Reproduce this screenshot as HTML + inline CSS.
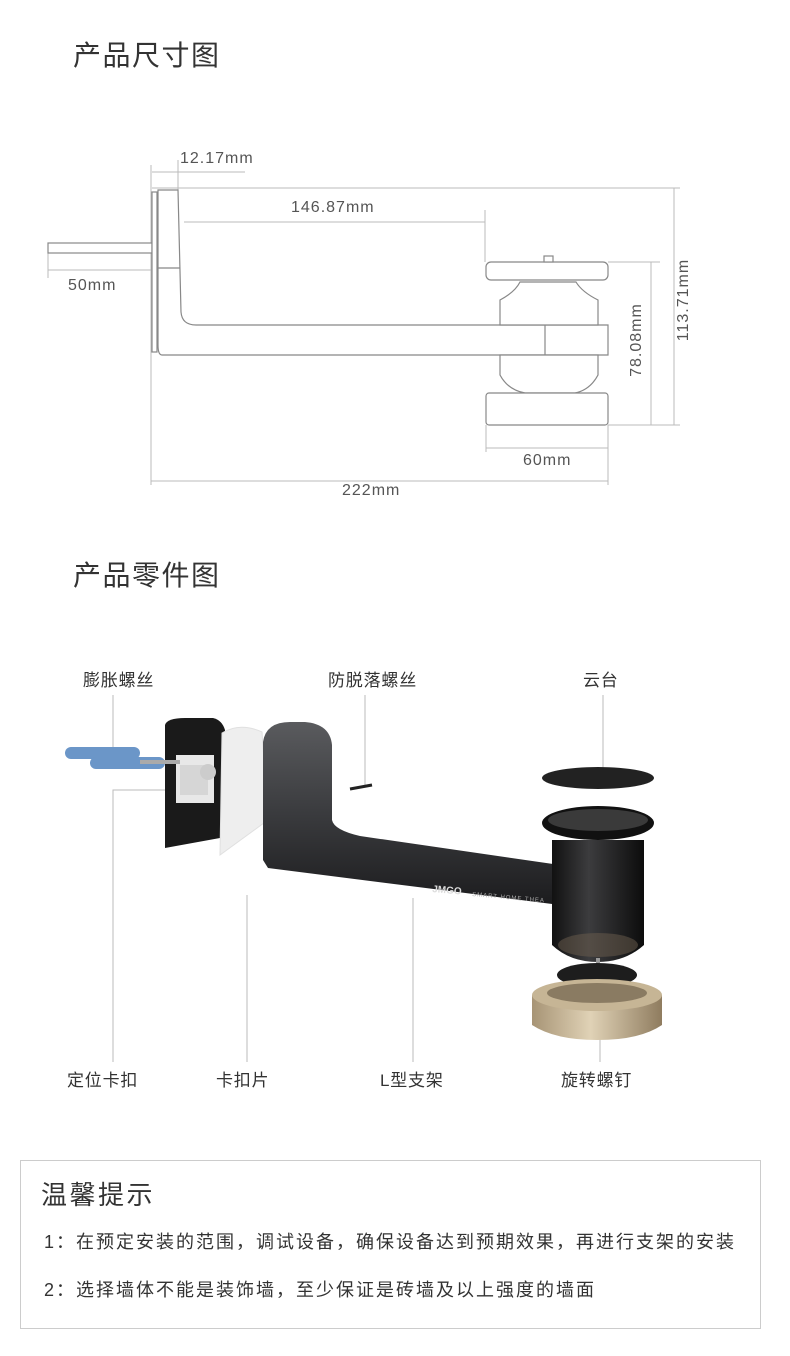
<!DOCTYPE html>
<html><head><meta charset="utf-8"><style>
body{margin:0;background:#fff;width:790px;height:1356px;overflow:hidden;position:relative;font-family:"Liberation Sans","Noto Sans CJK SC",sans-serif;}
.t{position:absolute;white-space:nowrap;color:#333;}
.d{font-size:16px;color:#555;letter-spacing:1px;}
.l{font-size:17px;letter-spacing:0.8px;}
svg{position:absolute;left:0;top:0;}
</style></head><body>
<svg width="790" height="1356" viewBox="0 0 790 1356">
<defs>
<linearGradient id="arm" x1="0" y1="0" x2="0" y2="1"><stop offset="0" stop-color="#5a5b5e"/><stop offset="0.5" stop-color="#3a3b3e"/><stop offset="1" stop-color="#1c1c1e"/></linearGradient>
<linearGradient id="cyl" x1="0" y1="0" x2="1" y2="0"><stop offset="0" stop-color="#111"/><stop offset="0.4" stop-color="#3c3c3e"/><stop offset="1" stop-color="#0c0c0c"/></linearGradient>
<linearGradient id="gold" x1="0" y1="0" x2="1" y2="0"><stop offset="0" stop-color="#a79475"/><stop offset="0.45" stop-color="#e0d2b6"/><stop offset="1" stop-color="#8f7c5f"/></linearGradient>
</defs>
<g stroke="#bbb" stroke-width="1" fill="none">
<line x1="151" y1="165" x2="151" y2="485"/>
<line x1="178" y1="160" x2="178" y2="190"/>
<line x1="152" y1="172" x2="245" y2="172"/>
<line x1="152" y1="188" x2="680" y2="188"/>
<line x1="184" y1="222" x2="485" y2="222"/>
<line x1="485" y1="210" x2="485" y2="262"/>
<line x1="48" y1="270" x2="152" y2="270"/>
<line x1="48" y1="253" x2="48" y2="278"/>
<line x1="608" y1="262" x2="660" y2="262"/>
<line x1="608" y1="425" x2="680" y2="425"/>
<line x1="651" y1="262" x2="651" y2="425"/>
<line x1="674" y1="188" x2="674" y2="425"/>
<line x1="486" y1="425" x2="486" y2="452"/>
<line x1="608" y1="425" x2="608" y2="485"/>
<line x1="486" y1="448" x2="608" y2="448"/>
<line x1="151" y1="481" x2="608" y2="481"/>
</g>
<g stroke="#888" stroke-width="1.2" fill="#fff">
<rect x="48" y="243" width="104" height="10"/>
<rect x="152" y="192" width="5" height="160"/>
<path d="M158 190 L178 190 L181 312 Q182 325 196 325 L608 325 L608 355 L162 355 Q158 355 158 345 Z"/>
<line x1="158" y1="268" x2="180" y2="268"/>
<line x1="545" y1="325" x2="545" y2="355"/>
<path d="M500 355 L598 355 L598 375 Q590 390 575 393 L525 393 Q508 390 500 375 Z"/>
<rect x="486" y="393" width="122" height="32" rx="3"/>
<path d="M500 325 L500 300 Q515 292 520 282 L576 282 Q582 292 598 300 L598 325 Z"/>
<rect x="486" y="262" width="122" height="18" rx="5"/>
<rect x="544" y="256" width="9" height="6"/>
</g>
<g stroke="#bbb" stroke-width="1" fill="none">
<line x1="113" y1="695" x2="113" y2="760"/>
<polyline points="165,790 113,790 113,1062"/>
<line x1="365" y1="695" x2="365" y2="785"/>
<line x1="603" y1="695" x2="603" y2="770"/>
<line x1="247" y1="895" x2="247" y2="1062"/>
<line x1="413" y1="898" x2="413" y2="1062"/>
<line x1="600" y1="1030" x2="600" y2="1062"/>
</g>
<path d="M165 725 Q167 718 185 718 L213 718 Q222 720 225 730 L220 838 L165 848 Z" fill="#1a1a1a"/>
<rect x="176" y="755" width="38" height="48" fill="#fff" opacity="0.9"/>
<path d="M222 733 Q240 722 262 732 L268 820 L220 855 Z" fill="#eeeeee" stroke="#e0e0e0"/>
<g fill="#6b96c8"><rect x="65" y="747" width="75" height="12" rx="6"/><rect x="90" y="757" width="75" height="12" rx="6"/></g>
<rect x="140" y="760" width="40" height="4" fill="#aaa"/>
<rect x="180" y="765" width="28" height="30" fill="#d6d6d6"/>
<circle cx="208" cy="772" r="8" fill="#ccc"/>
<path d="M263 742 Q266 722 290 722 L305 722 Q330 724 332 745 L332 820 Q334 830 360 836 L560 865 L560 905 L268 868 L263 860 Z" fill="url(#arm)"/>
<line x1="350" y1="789" x2="372" y2="785" stroke="#222" stroke-width="3"/>
<text x="432" y="892" font-size="10" font-weight="bold" fill="#ddd" transform="rotate(5 432 892)">JMGO</text>
<text x="472" y="896" font-size="6" fill="#aaa" letter-spacing="1" transform="rotate(5 472 896)">SMART HOME THEA</text>
<ellipse cx="598" cy="778" rx="56" ry="11" fill="#222"/>
<ellipse cx="598" cy="823" rx="56" ry="17" fill="#111"/>
<ellipse cx="598" cy="820" rx="50" ry="11" fill="#3a3a3a"/>
<path d="M552 840 L644 840 L644 945 Q625 962 598 962 Q570 962 552 945 Z" fill="url(#cyl)"/>
<ellipse cx="598" cy="945" rx="40" ry="12" fill="#6b5e4e" opacity="0.5"/>
<rect x="596" y="958" width="4" height="12" fill="#999"/>
<ellipse cx="597" cy="975" rx="40" ry="12" fill="#1d1d1d"/>
<path d="M532 995 L662 995 L662 1025 Q640 1040 597 1040 Q555 1040 532 1025 Z" fill="url(#gold)"/>
<ellipse cx="597" cy="995" rx="65" ry="16" fill="#c6b595"/>
<ellipse cx="597" cy="993" rx="50" ry="10" fill="#8a7b62"/>
<rect x="20.5" y="1160.5" width="740" height="168" fill="none" stroke="#ccc"/>
</svg>
<div class="t" style="left:73px;top:34px;font-size:28px;letter-spacing:1.5px;">产品尺寸图</div>
<div class="t d" style="left:180px;top:150px;">12.17mm</div>
<div class="t d" style="left:291px;top:199px;">146.87mm</div>
<div class="t d" style="left:68px;top:277px;">50mm</div>
<div class="t d" style="left:523px;top:452px;">60mm</div>
<div class="t d" style="left:342px;top:482px;">222mm</div>
<div class="t d" style="left:592px;top:331px;transform:rotate(-90deg);transform-origin:center;width:90px;text-align:center;">78.08mm</div>
<div class="t d" style="left:634px;top:291px;transform:rotate(-90deg);transform-origin:center;width:100px;text-align:center;">113.71mm</div>
<div class="t" style="left:73px;top:554px;font-size:28px;letter-spacing:1.5px;">产品零件图</div>
<div class="t l" style="left:83px;top:666px;">膨胀螺丝</div>
<div class="t l" style="left:328px;top:666px;">防脱落螺丝</div>
<div class="t l" style="left:583px;top:666px;">云台</div>
<div class="t l" style="left:67px;top:1066px;">定位卡扣</div>
<div class="t l" style="left:216px;top:1066px;">卡扣片</div>
<div class="t l" style="left:380px;top:1066px;">L型支架</div>
<div class="t l" style="left:561px;top:1066px;">旋转螺钉</div>
<div class="t" style="left:41px;top:1175px;font-size:26px;letter-spacing:2.5px;">温馨提示</div>
<div class="t" style="left:44px;top:1228px;font-size:18px;letter-spacing:2px;">1：在预定安装的范围，调试设备，确保设备达到预期效果，再进行支架的安装</div>
<div class="t" style="left:44px;top:1276px;font-size:18px;letter-spacing:2px;">2：选择墙体不能是装饰墙，至少保证是砖墙及以上强度的墙面</div>
</body></html>
